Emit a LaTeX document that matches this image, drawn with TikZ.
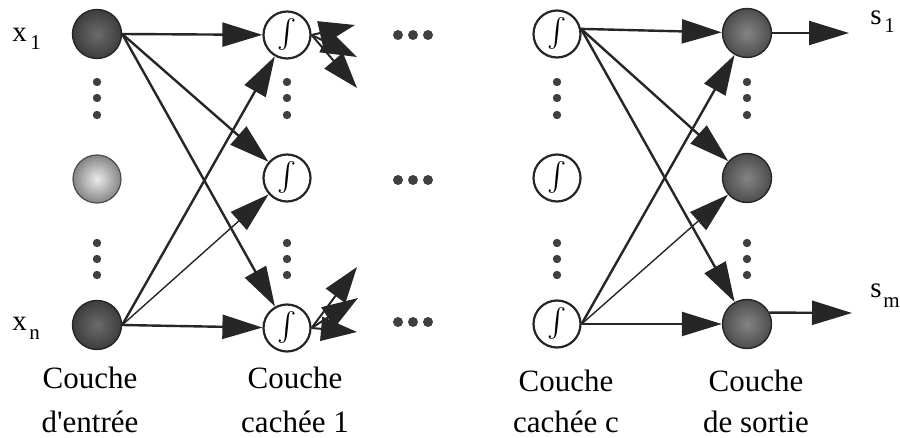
\documentclass[tikz,border=0pt]{standalone}
\usepackage{amsmath}
\usepackage{fontspec}
\setmainfont{Liberation Serif}[Ligatures=TeXOff]
\usetikzlibrary{arrows.meta}
\begin{document}
\begin{tikzpicture}[x=0.5pt,y=-0.5pt,
  inball/.style={circle, draw=black!85, line width=0.7pt, minimum size=24.5pt, inner sep=0pt, shading=radial, inner color=black!58, outer color=black!76},
  midball/.style={circle, draw=black!70, line width=0.6pt, minimum size=24pt, inner sep=0pt, shading=radial, inner color=black!8, outer color=black!48},
  outball/.style={circle, draw=black!85, line width=0.7pt, minimum size=24.5pt, inner sep=0pt, shading=radial, inner color=black!48, outer color=black!70},
  hid/.style={circle, draw=black!85, line width=1.1pt, fill=white, minimum size=23.5pt, inner sep=0pt, font=\fontsize{13.5}{13.5}\selectfont},
  link/.style={draw=black!85, line width=1.2pt, -{Triangle[length=20pt,width=12pt]}},
  thinlink/.style={link, line width=0.7pt},
  stub/.style={draw=black!85, line width=1pt, -{Triangle[length=18pt,width=12pt]}},
  vdot/.style={circle, fill=black!75, inner sep=0pt, minimum size=4.2pt},
  hdot/.style={circle, fill=black!75, inner sep=0pt, minimum size=5pt},
  lbl/.style={font=\fontsize{15.5}{23}\selectfont, anchor=base, inner sep=0pt},
  io/.style={font=\fontsize{14.5}{14.5}\selectfont, anchor=base west, inner sep=0pt},
  sub/.style={font=\fontsize{10.5}{10.5}\selectfont, anchor=base west, inner sep=0pt}
]
\useasboundingbox (0,0) rectangle (900,438);

% input layer
\node[inball] (x1) at (97,34) {};
\node[midball] (xm) at (97,179) {};
\node[inball] (xn) at (97,325) {};
% hidden layer 1
\node[hid] (h1a) at (287,35) {$\int$};
\node[hid] (h1b) at (287,178) {$\int$};
\node[hid] (h1c) at (287,328) {$\int$};
% hidden layer c
\node[hid] (hca) at (557,34) {$\int$};
\node[hid] (hcb) at (557,178) {$\int$};
\node[hid] (hcc) at (557,324) {$\int$};
% output layer
\node[outball] (oa) at (747,33) {};
\node[outball] (ob) at (747,178) {};
\node[outball] (oc) at (747,324) {};

% vertical dots
\foreach \c/\x in {a/97,b/287,c/557,d/747}{
  \node[vdot] (vu1\c) at (\x,82) {};
  \node[vdot] (vu2\c) at (\x,98) {};
  \node[vdot] (vu3\c) at (\x,115) {};
  \node[vdot] (vl1\c) at (\x,243) {};
  \node[vdot] (vl2\c) at (\x,259) {};
  \node[vdot] (vl3\c) at (\x,275) {};
}
% horizontal dots
\foreach \r/\y in {a/35,b/180,c/322}{
  \node[hdot] (hd1\r) at (398,\y) {};
  \node[hdot] (hd2\r) at (413,\y) {};
  \node[hdot] (hd3\r) at (428,\y) {};
}

% input -> hidden 1
\draw[link] (x1.east) -- (h1a);
\draw[link] (x1.east) -- (h1b);
\draw[link] (x1.east) -- (h1c);
\draw[link] (xn.east) -- (h1a);
\draw[thinlink] (xn.east) -- (h1b);
\draw[link] (xn.east) -- (h1c);

% hidden c -> output
\draw[link] (hca.12) -- (oa);
\draw[link] (hca.12) -- (ob);
\draw[link] (hca.12) -- (oc);
\draw[link] (hcc.east) -- (oa);
\draw[thinlink] (hcc.east) -- (ob);
\draw[link] (hcc.east) -- (oc);

% outputs
\coordinate (s1end) at (849,33);
\coordinate (smend) at (852,313);
\draw[link] (oa.east) -- (s1end);
\draw[link] (oc.27) -- (smend);

% stubs from hidden layer 1
\coordinate (t1) at (355,25);
\coordinate (t2) at (357,57);
\coordinate (t3) at (357,88);
\coordinate (b1) at (357,332);
\coordinate (b2) at (358,298);
\coordinate (b3) at (357,267);
\draw[stub] (h1a.east) -- (t1);
\draw[stub] (h1a.east) -- (t2);
\draw[stub] (h1a.east) -- (t3);
\draw[stub] (h1c.east) -- (b1);
\draw[stub] (h1c.east) -- (b2);
\draw[stub] (h1c.east) -- (b3);

% io labels
\node[io] (lx1) at (12,42) {x};
\node[sub] (lx1s) at (30,50) {1};
\node[io] (lxn) at (12,331) {x};
\node[sub] (lxns) at (29,340) {n};
\node[io] (ls1) at (870,25) {s};
\node[sub] (ls1s) at (884,33) {1};
\node[io] (lsm) at (870,298) {s};
\node[sub] (lsms) at (883,307) {m};

% layer labels
\node[lbl] (c1a) at (90,388) {Couche};
\node[lbl] (c1b) at (90,432) {d'entrée};
\node[lbl] (c2a) at (295,388) {Couche};
\node[lbl] (c2b) at (295,432) {cachée 1};
\node[lbl] (c3a) at (566,392) {Couche};
\node[lbl] (c3b) at (566,432) {cachée c};
\node[lbl] (c4a) at (756,392) {Couche};
\node[lbl] (c4b) at (756,432) {de sortie};
\end{tikzpicture}
\end{document}
